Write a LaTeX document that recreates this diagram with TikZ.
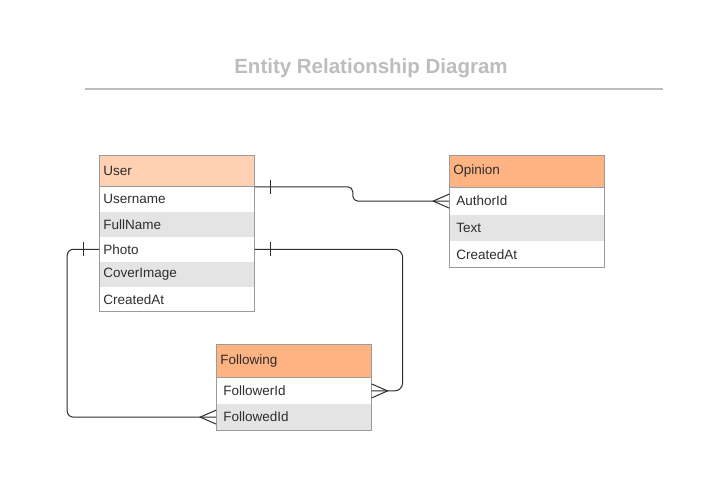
\documentclass[tikz,border=0pt]{standalone}
\usepackage{fontspec}
\setmainfont{Liberation Sans}
\usetikzlibrary{positioning}
\definecolor{headlight}{RGB}{255,208,178}
\definecolor{headdark}{RGB}{255,179,130}
\definecolor{rowgray}{RGB}{228,228,228}
\definecolor{edgegray}{RGB}{155,155,155}
\definecolor{titlegray}{RGB}{189,189,189}
\definecolor{linkcol}{RGB}{45,45,45}

\begin{document}
\begin{tikzpicture}[x=1pt, y=-1pt, node distance=0pt,
    field/.style = {minimum width=155pt, minimum height=24.6pt, text width=147pt, inner xsep=4pt, inner ysep=0pt, align=left, font=\fontsize{13.5}{16}\selectfont, text=linkcol},
    head/.style = {field, draw=edgegray, line width=0.8pt, fill=headdark, minimum height=32pt, anchor=north west},
    shade/.style = {fill=rowgray},
    indent/.style = {text width=141pt, inner xsep=7pt},
    link/.style = {draw=linkcol, line width=1pt},
    rel/.style = {link, rounded corners=6pt}]
                  \useasboundingbox (0,0) rectangle (719,501);
                  \node[font=\bfseries\fontsize{20.5}{24}\selectfont, text=titlegray] (title) at (371,68) {Entity Relationship Diagram};
                  \draw[titlegray, line width=1.3pt] (85,89) -- (663,89);
                  % User
                  \node[head, fill=headlight, minimum height=31pt] (uh) at (99,155) {User};
                  \node[field] (u1) [below=of uh] {Username};
                  \node[field, shade] (u2) [below=of u1] {FullName};
                  \node[field] (u3) [below=of u2] {Photo};
                  \node[field, shade] (u4) [below=of u3] {CoverImage};
                  \node[field] (u5) [below=of u4] {CreatedAt};
                  \draw[edgegray, line width=0.8pt] (uh.north west) rectangle (u5.south east);
                  % Opinion
                  \node[head] (oh) at (449,155) {Opinion};
                  \node[field, indent, minimum height=26.2pt] (o1) [below=of oh] {AuthorId};
                  \node[field, indent, shade, minimum height=26.2pt] (o2) [below=of o1] {Text};
                  \node[field, indent, minimum height=26.2pt] (o3) [below=of o2] {CreatedAt};
                  \draw[edgegray, line width=0.8pt] (oh.north west) rectangle (o3.south east);
                  % Following
                  \node[head, minimum height=33pt] (fh) at (216,344) {Following};
                  \node[field, indent, minimum height=25.8pt] (f1) [below=of fh] {FollowerId};
                  \node[field, indent, shade, minimum height=25.8pt] (f2) [below=of f1] {FollowedId};
                  \draw[edgegray, line width=0.8pt] (fh.north west) rectangle (f2.south east);
                  % relations
                  \draw[rel, rounded corners=5pt] (uh.south east) -- ++(98,0) |- (o1.west);
                  \draw[rel, rounded corners=8pt] (u3.east) -- ++(148,0) |- (f1.east);
                  \draw[rel] (u3.west) -- ++(-32,0) |- (f2.west);
                  \draw[link] ([xshift=16pt,yshift=7pt]uh.south east) -- ([xshift=16pt,yshift=-7pt]uh.south east);
                  \draw[link] ([xshift=16pt,yshift=7pt]u3.east) -- ([xshift=16pt,yshift=-7pt]u3.east);
                  \draw[link] ([xshift=-16pt,yshift=7pt]u3.west) -- ([xshift=-16pt,yshift=-7pt]u3.west);
                  \draw[link] ([yshift=7pt]o1.west) -- ([xshift=-16pt]o1.west) -- ([yshift=-7pt]o1.west);
                  \draw[link] ([yshift=7pt]f1.east) -- ([xshift=16pt]f1.east) -- ([yshift=-7pt]f1.east);
                  \draw[link] ([yshift=7pt]f2.west) -- ([xshift=-16pt]f2.west) -- ([yshift=-7pt]f2.west);
\end{tikzpicture}
\end{document}
